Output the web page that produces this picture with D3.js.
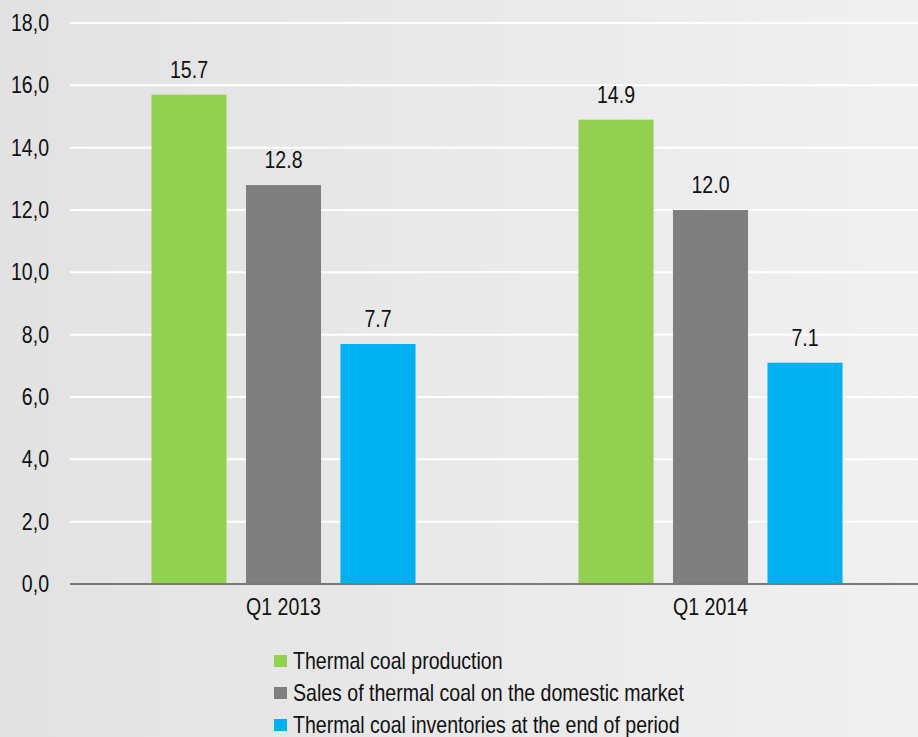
<!DOCTYPE html>
<html>
<head>
<meta charset="utf-8">
<script src="https://cdn.jsdelivr.net/npm/d3@7"></script>
<style>
  body { margin: 0; }
  svg text { font-family: 'Liberation Sans', Arial, sans-serif; fill: #111; }
</style>
</head>
<body>
<svg></svg>
<script>
const quarters = ['Q1 2013', 'Q1 2014']
const seriesNames = ['Thermal coal production',
                     'Sales of thermal coal on the domestic market',
                     'Thermal coal inventories at the end of period']
const production = [15.7, 14.9]
const sales = [12.8, 12.0]
const inventories = [7.7, 7.1]
const yTicks = [0, 2, 4, 6, 8, 10, 12, 14, 16, 18]
const colors = ['#92d050', '#7f7f7f', '#00b0f0']

const w = 918
const h = 737
const padLeft = 70
const padRight = 924
const padTop = 23
const padBottom = 584
const narrow = 0.85 // squeeze text to look like Arial Narrow

let series = [production, sales, inventories]

let svg = d3.select('svg').attr('width', w).attr('height', h)

let defs = svg.append('defs')
let grad = defs.append('linearGradient').attr('id', 'bg')
  .attr('x1', 0).attr('x2', 1).attr('y1', 0).attr('y2', 0)
grad.append('stop').attr('offset', '0%').attr('stop-color', '#e2e2e2')
grad.append('stop').attr('offset', '100%').attr('stop-color', '#f0f0f0')
svg.append('rect').attr('width', w).attr('height', h).attr('fill', 'url(#bg)')

let yScale = d3.scaleLinear().domain([0, 18]).range([padBottom, padTop])
let xGroup = d3.scaleBand().domain(quarters).range([padLeft, padRight])
let xInner = d3.scaleBand().domain(d3.range(series.length))
  .range([81.5, xGroup.bandwidth() - 81.5]).paddingInner(0.206)

// gridlines
svg.append('g').selectAll('line')
  .data(yTicks.filter(d => d > 0))
  .enter().append('line')
  .attr('x1', padLeft).attr('x2', w)
  .attr('y1', d => yScale(d)).attr('y2', d => yScale(d))
  .attr('stroke', '#fff').attr('stroke-width', 2)

// y tick labels
let yAxis = d3.axisLeft(yScale).tickValues(yTicks)
  .tickFormat(d => d3.format('.1f')(d).replace('.', ','))
  .tickSize(0).tickPadding(21)
let yg = svg.append('g').attr('transform', `translate(${padLeft},0)`).call(yAxis)
yg.select('.domain').remove()
yg.selectAll('text').style('font-size', '23px').attr('fill', '#111')

// bars
let groups = svg.append('g').selectAll('g')
  .data(quarters)
  .enter().append('g')
  .attr('transform', d => `translate(${xGroup(d)},0)`)

groups.selectAll('rect')
  .data((q, qi) => series.map((s, si) => ({ si: si, v: s[qi] })))
  .enter().append('rect')
  .attr('x', d => xInner(d.si))
  .attr('width', xInner.bandwidth())
  .attr('y', d => yScale(d.v))
  .attr('height', d => padBottom - yScale(d.v))
  .attr('fill', d => colors[d.si])

groups.selectAll('text')
  .data((q, qi) => series.map((s, si) => ({ si: si, v: s[qi] })))
  .enter().append('text')
  .attr('x', d => xInner(d.si) + xInner.bandwidth() / 2)
  .attr('y', d => yScale(d.v) - 17)
  .attr('text-anchor', 'middle')
  .style('font-size', '23px')
  .text(d => d.v.toFixed(1))

// x axis
let xAxis = d3.axisBottom(xGroup).tickSize(0).tickPadding(15)
let xg = svg.append('g').attr('transform', `translate(0,${padBottom})`).call(xAxis)
xg.select('.domain').attr('d', `M${padLeft},0H${w}`).attr('stroke', '#7a7a7a').attr('stroke-width', 2)
xg.selectAll('text').style('font-size', '23px').attr('fill', '#111')

// legend
let legend = svg.append('g').selectAll('g')
  .data(seriesNames)
  .enter().append('g')
  .attr('transform', (d, i) => `translate(274,${661 + i * 32})`)
legend.append('rect').attr('x', 0).attr('y', -6).attr('width', 13).attr('height', 12)
  .attr('fill', (d, i) => colors[i])
legend.append('text').attr('x', 19).attr('dy', '0.35em')
  .style('font-size', '23px').text(d => d)

// condense every label horizontally around its anchor
svg.selectAll('text').attr('transform', function() {
  let x = +this.getAttribute('x') || 0
  return `translate(${x},0) scale(${narrow},1) translate(${-x},0)`
})
</script>
</body>
</html>
